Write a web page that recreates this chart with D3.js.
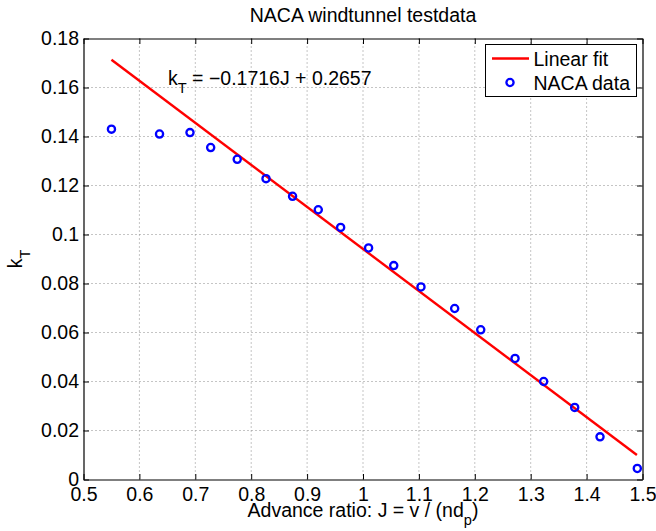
<!DOCTYPE html>
<html><head><meta charset="utf-8">
<script src="https://cdn.jsdelivr.net/npm/d3@7"></script>
<style>
html,body{margin:0;padding:0;background:#fff;}
svg{display:block;font-family:"Liberation Sans",Arial,Helvetica,sans-serif;}
</style></head>
<body>
<script>
// Data
const advanceRatio = [0.55,0.636,0.6905,0.7275,0.775,0.8265,0.874,0.920,0.960,1.010,1.055,1.1037,1.164,1.2106,1.272,1.3232,1.3787,1.424,1.4907];
const thrustCoef   = [0.1430,0.1410,0.1416,0.1355,0.1307,0.1228,0.1156,0.1101,0.1029,0.0945,0.0873,0.0786,0.0698,0.0611,0.0494,0.0400,0.0294,0.0174,0.0045];
const fitSlope = -0.1716, fitIntercept = 0.2657;
const fitRange = [0.55, 1.49];
const xTicks = [0.5,0.6,0.7,0.8,0.9,1,1.1,1.2,1.3,1.4,1.5];
const yTicks = [0,0.02,0.04,0.06,0.08,0.1,0.12,0.14,0.16,0.18];
const titleText = "NACA windtunnel testdata";
const legendLabels = ["Linear fit","NACA data"];

const W=656,H=531;
const L=83.5,R=642.5,T=38.5,B=479.5;
const fs=19.5;
const svg=d3.select("body").append("svg").attr("width",W).attr("height",H);
const x=d3.scaleLinear().domain([0.5,1.5]).range([L,R]);
const y=d3.scaleLinear().domain([0,0.18]).range([B,T]);

// grid
const g=svg.append("g");
g.selectAll(".gx").data(xTicks.slice(1,-1)).join("line")
 .attr("x1",d=>x(d)).attr("x2",d=>x(d)).attr("y1",T).attr("y2",B)
 .attr("stroke","#8a8a8a").attr("stroke-width",1).attr("stroke-dasharray","1,3");
g.selectAll(".gy").data(yTicks.slice(1,-1)).join("line")
 .attr("y1",d=>y(d)).attr("y2",d=>y(d)).attr("x1",L).attr("x2",R)
 .attr("stroke","#8a8a8a").attr("stroke-width",1).attr("stroke-dasharray","1,3");

// axes
const fmt=d=>d3.format("~g")(d);
const ax=svg.append("g").attr("transform",`translate(0,${B})`).call(d3.axisBottom(x).tickValues(xTicks).tickFormat(fmt).tickSizeInner(-5.5).tickSizeOuter(0).tickPadding(8));
const ay=svg.append("g").attr("transform",`translate(${L},0)`).call(d3.axisLeft(y).tickValues(yTicks).tickFormat(fmt).tickSizeInner(-5.5).tickSizeOuter(0).tickPadding(4.5));
const axT=svg.append("g").attr("transform",`translate(0,${T})`).call(d3.axisTop(x).tickValues(xTicks).tickFormat("").tickSizeInner(-5.5).tickSizeOuter(0));
const ayR=svg.append("g").attr("transform",`translate(${R},0)`).call(d3.axisRight(y).tickValues(yTicks).tickFormat("").tickSizeInner(-5.5).tickSizeOuter(0));
[ax,ay,axT,ayR].forEach(a=>{
  a.selectAll("path").attr("stroke","#000").attr("stroke-width",1.2);
  a.selectAll("line").attr("stroke","#000");
  a.selectAll("text").attr("font-size",fs).attr("fill","#000").attr("font-family","Liberation Sans, Arial, sans-serif");
});

// fit line
const fitPts=fitRange.map(j=>[j,fitSlope*j+fitIntercept]);
svg.append("path").datum(fitPts)
 .attr("d",d3.line().x(d=>x(d[0])).y(d=>y(d[1])))
 .attr("stroke","#ff0000").attr("stroke-width",2.4).attr("fill","none");

// data
svg.selectAll(".pt").data(advanceRatio.map((v,i)=>[v,thrustCoef[i]])).join("circle")
 .attr("cx",d=>x(d[0])).attr("cy",d=>y(d[1])).attr("r",3.6)
 .attr("fill","none").attr("stroke","#0000ff").attr("stroke-width",2.3);

// title
svg.append("text").attr("x",(L+R)/2).attr("y",21.5).attr("text-anchor","middle")
 .attr("font-size",fs).text(titleText);

// annotation
const an=svg.append("text").attr("x",168).attr("y",85).attr("font-size",fs);
an.append("tspan").text("k");
an.append("tspan").attr("font-size",fs*0.75).attr("dy",8).text("T");
an.append("tspan").attr("dy",-8).text(" = \u22120.1716J + 0.2657");

// x label
const xl=svg.append("text").attr("x",(L+R)/2).attr("y",517).attr("text-anchor","middle").attr("font-size",fs);
xl.append("tspan").text("Advance ratio: J = v / (nd");
xl.append("tspan").attr("font-size",fs*0.75).attr("dy",8).text("p");
xl.append("tspan").attr("dy",-8).text(")");

// y label
const yl=svg.append("text").attr("transform",`translate(22,${(T+B)/2}) rotate(-90)`).attr("text-anchor","middle").attr("font-size",fs);
yl.append("tspan").text("k");
yl.append("tspan").attr("font-size",fs*0.75).attr("dy",8).text("T");

// legend
const lg=svg.append("g");
lg.append("rect").attr("x",485.5).attr("y",44.5).attr("width",151).attr("height",52)
 .attr("fill","#fff").attr("stroke","#000").attr("stroke-width",1);
lg.append("line").attr("x1",492).attr("x2",529).attr("y1",58.5).attr("y2",58.5)
 .attr("stroke","#ff0000").attr("stroke-width",2.4);
lg.append("circle").attr("cx",510).attr("cy",82.5).attr("r",3.6)
 .attr("fill","none").attr("stroke","#0000ff").attr("stroke-width",2.3);
lg.append("text").attr("x",533.5).attr("y",65.5).attr("font-size",fs).text(legendLabels[0]);
lg.append("text").attr("x",533.5).attr("y",90).attr("font-size",fs).text(legendLabels[1]);
</script>
</body></html>
